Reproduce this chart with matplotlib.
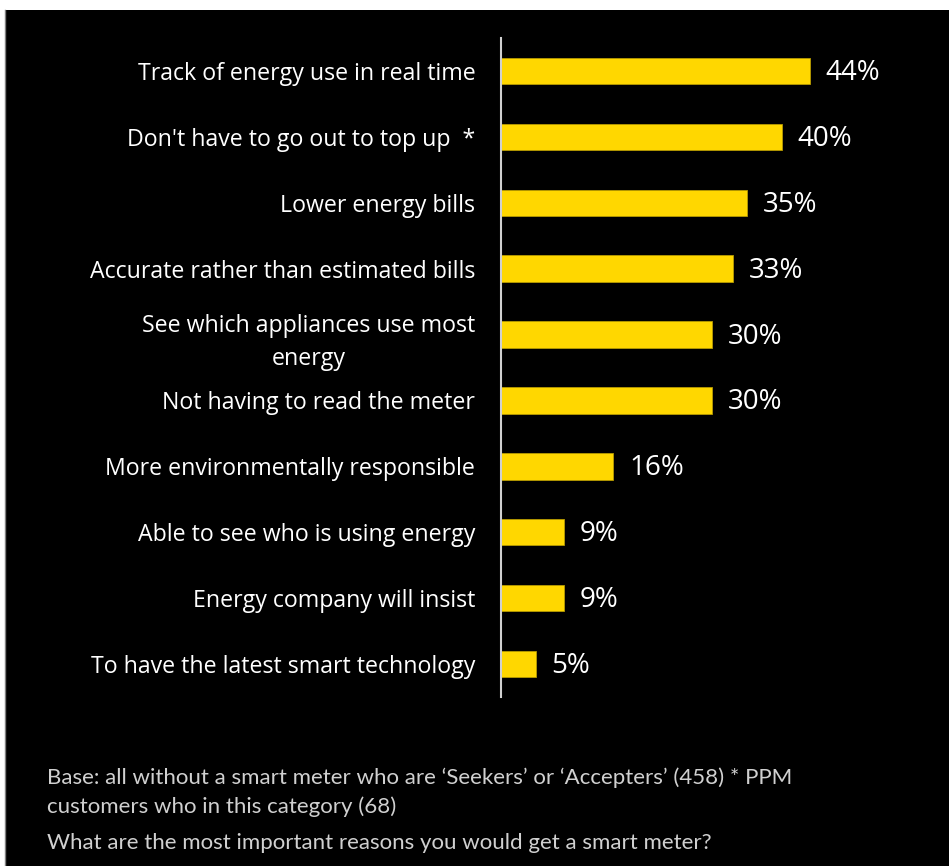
import matplotlib
matplotlib.use("Agg")
import matplotlib.pyplot as plt
from matplotlib.patches import Rectangle

categories = [
    "Track of energy use in real time",
    "Don't have to go out to top up  *",
    "Lower energy bills",
    "Accurate rather than estimated bills",
    "See which appliances use most\nenergy",
    "Not having to read the meter",
    "More environmentally responsible",
    "Able to see who is using energy",
    "Energy company will insist",
    "To have the latest smart technology",
]
values = [44, 40, 35, 33, 30, 30, 16, 9, 9, 5]
value_labels = ["44%", "40%", "35%", "33%", "30%", "30%", "16%", "9%", "9%", "5%"]

footnote_base = ("Base: all without a smart meter who are \u2018Seekers\u2019 or \u2018Accepters\u2019 (458) * PPM\n"
                 "customers who in this category (68)")
footnote_question = "What are the most important reasons you would get a smart meter?"

W, H = 949, 866
fig = plt.figure(figsize=(W / 100, H / 100), dpi=100, facecolor="white")

# black panel behind the chart
fig.patches.append(Rectangle((5 / W, 0), 1 - 5 / W, 1 - 10 / H, transform=fig.transFigure,
                             facecolor="black", edgecolor="none", zorder=-10))
fig.add_artist(plt.Line2D([5 / W, 5 / W], [0, 1 - 10 / H], transform=fig.transFigure,
                          color="#808080", lw=1, zorder=-9))

left_px, right_px, top_px, bottom_px = 501, 900, 38, 697
ax = fig.add_axes([left_px / W, 1 - bottom_px / H, (right_px - left_px) / W, (bottom_px - top_px) / H])
ax.set_facecolor("none")
ax.set_zorder(5)

y = list(range(len(categories)))
ax.barh(y, values, height=0.4, color="#FFD700", edgecolor="#B89B00", linewidth=0.6, zorder=2)
ax.set_ylim(len(categories) - 0.5, -0.5)
ax.set_xlim(0, (right_px - left_px) / 7.03)

for yi, v, lab in zip(y, values, value_labels):
    ax.text(v + 2.2, yi + 0.03, lab, va="center", ha="left", color="white",
            fontsize=20, family="Open Sans")

ax.set_yticks(y)
ax.set_yticklabels(categories, fontsize=16.7, color="white", family="Open Sans",
                   multialignment="center", linespacing=1.5)
ax.tick_params(axis="y", length=0, pad=18.5)
ax.set_xticks([])
for s in ["top", "right", "bottom"]:
    ax.spines[s].set_visible(False)
ax.spines["left"].set_color("#d0d0d0")
ax.spines["left"].set_linewidth(1.5)

fig.text(47 / W, 1 - 767 / H, footnote_base, color="#d0d0d0", fontsize=16, family="Lato",
         va="top", ha="left", linespacing=1.55)
fig.text(47 / W, 1 - 833 / H, footnote_question, color="#d0d0d0", fontsize=16, family="Lato",
         va="top", ha="left")

fig.savefig("out.png", dpi=100, facecolor="white")
